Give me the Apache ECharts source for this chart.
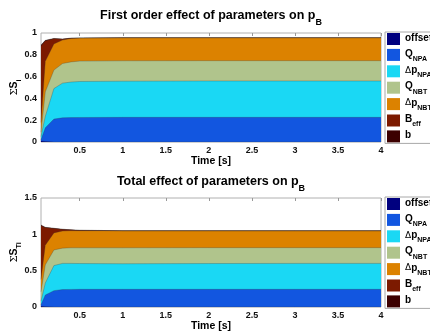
<!DOCTYPE html>
<html>
<head>
<meta charset="utf-8">
<script src="https://cdn.jsdelivr.net/npm/echarts@6/dist/echarts.min.js"></script>
<style>
  html, body { margin: 0; padding: 0; background: #fff; }
  #chart { width: 430px; height: 331px; }
</style>
</head>
<body>
<div id="chart"></div>
<script>
// Sample times [s]
const time = [0.05, 0.1, 0.2, 0.3, 0.4, 0.5, 1, 2, 3, 4];

// Parameter names (stacking order, bottom to top)
const paramNames = ['offset', 'Q_NPA', 'Δp_NPA', 'Q_NBT', 'Δp_NBT', 'B_eff', 'b'];
const paramColors = ['#00007f', '#1256e0', '#1ad8f4', '#b0c48c', '#dc8200', '#7c1a00', '#3c0000'];

// First order sensitivity indices S_i
const firstOffset = [0.01, 0.005, 0, 0, 0, 0, 0, 0, 0, 0];
const firstQNPA   = [0.01, 0.125, 0.21, 0.222, 0.224, 0.225, 0.226, 0.226, 0.226, 0.226];
const firstDpNPA  = [0.03, 0.105, 0.28, 0.318, 0.326, 0.330, 0.332, 0.334, 0.334, 0.334];
const firstQNBT   = [0.04, 0.225, 0.17, 0.18, 0.185, 0.187, 0.187, 0.186, 0.186, 0.186];
const firstDpNBT  = [0.09, 0.28, 0.24, 0.215, 0.215, 0.213, 0.212, 0.211, 0.211, 0.211];
const firstBeff   = [0.70, 0.19, 0.05, 0.01, 0.003, 0, 0, 0, 0, 0];
const firstB      = [0.01, 0.003, 0, 0, 0, 0, 0, 0, 0, 0];

// Total effect indices S_Ti
const totalOffset = [0.01, 0.005, 0, 0, 0, 0, 0, 0, 0, 0];
const totalQNPA   = [0.02, 0.16, 0.225, 0.24, 0.242, 0.243, 0.243, 0.243, 0.243, 0.243];
const totalDpNPA  = [0.05, 0.165, 0.345, 0.36, 0.358, 0.355, 0.352, 0.355, 0.357, 0.357];
const totalQNBT   = [0.13, 0.25, 0.215, 0.21, 0.215, 0.217, 0.22, 0.219, 0.217, 0.217];
const totalDpNBT  = [0.17, 0.27, 0.235, 0.235, 0.235, 0.235, 0.235, 0.233, 0.233, 0.233];
const totalBeff   = [0.74, 0.245, 0.063, 0.025, 0.012, 0.006, 0, 0, 0, 0];
const totalB      = [0.01, 0.002, 0, 0, 0, 0, 0, 0, 0, 0];

// Tick labels
const xTicks = [0.5, 1, 1.5, 2, 2.5, 3, 3.5, 4];
const firstYTicks = { min: 0, max: 1, step: 0.2 };
const totalYTicks = { min: 0, max: 1.5, step: 0.5 };

const firstSets = [firstOffset, firstQNPA, firstDpNPA, firstQNBT, firstDpNBT, firstBeff, firstB];
const totalSets = [totalOffset, totalQNPA, totalDpNPA, totalQNBT, totalDpNBT, totalBeff, totalB];

const FONT = 'Liberation Sans, Arial, sans-serif';

// "Q_NPA" -> rich text with subscript, leading Δ drawn in a symbol-like face
function richName(n) {
  let out = '';
  let s = n;
  if (s.charAt(0) === 'Δ') { out += '{d|Δ}'; s = s.slice(1); }
  const parts = s.split('_');
  out += '{m|' + parts[0] + '}';
  if (parts[1]) out += '{s|' + parts[1] + '}';
  return out;
}

const legendRich = {
  m: { fontFamily: FONT, fontSize: 10, fontWeight: 'bold', color: '#000', lineHeight: 12, padding: [1, 0, 3, 0] },
  d: { fontFamily: 'DejaVu Sans', fontSize: 9, fontWeight: 'normal', color: '#000', lineHeight: 12, padding: [1, 0, 3, 0] },
  s: { fontFamily: FONT, fontSize: 7, fontWeight: 'bold', color: '#000', lineHeight: 8, padding: [8, 0, 0, 0] }
};

const titleRich = {
  t: { fontFamily: FONT, fontSize: 12.5, fontWeight: 'bold', color: '#000', lineHeight: 14, padding: [0, 0, 5, 0] },
  s: { fontFamily: FONT, fontSize: 9, fontWeight: 'bold', color: '#000', lineHeight: 10, padding: [9, 0, 0, 0] }
};

const axisNameRich = {
  g: { fontFamily: 'DejaVu Serif', fontSize: 10, fontWeight: 'normal', color: '#000', lineHeight: 12, padding: [1, 0, 3, 0] },
  m: { fontFamily: FONT, fontSize: 10.5, fontWeight: 'bold', color: '#000', lineHeight: 12, padding: [1, 0, 3, 0] },
  s: { fontFamily: FONT, fontSize: 7, fontWeight: 'bold', color: '#000', lineHeight: 8, padding: [8, 0, 0, 0] }
};

const grids = [
  { left: 41, top: 33, width: 340, height: 109 },
  { left: 41, top: 198, width: 340, height: 109 }
];

function xAxes(gridIndex) {
  const base = {
    type: 'value', gridIndex, min: 0.05, max: 4,
    splitLine: { show: false },
    axisLine: { show: false }
  };
  return [
    Object.assign({}, base, {
      position: 'bottom',
      name: 'Time [s]', nameLocation: 'middle', nameGap: 14, nameMoveOverlap: false,
      nameTextStyle: { fontFamily: FONT, fontSize: 10.5, fontWeight: 'bold', color: '#000', lineHeight: 11 },
      axisTick: { show: false },
      axisLabel: { customValues: xTicks, margin: 4, fontFamily: FONT, fontSize: 9, fontWeight: 'bold', color: '#111' }
    }),
    Object.assign({}, base, {
      position: 'top',
      axisTick: { show: true, inside: true, length: 3, customValues: xTicks, lineStyle: { color: '#999' } },
      axisLabel: { show: false }
    })
  ];
}

function yAxis(gridIndex, ticks, nameRich) {
  return {
    type: 'value', gridIndex, min: ticks.min, max: ticks.max, interval: ticks.step,
    name: nameRich, nameLocation: 'middle', nameGap: 20, nameMoveOverlap: false,
    nameTextStyle: { rich: axisNameRich },
    splitLine: { show: false },
    axisLine: { show: false },
    axisTick: { show: false },
    axisLabel: { margin: 4, fontFamily: FONT, fontSize: 9, fontWeight: 'bold', color: '#111' }
  };
}

// Stacked areas: each layer is drawn as the running total up to that parameter,
// highest total first so the lower layers paint over it.
function buildSeries(sets, xIdx, yIdx) {
  const running = time.map(() => 0);
  const layers = sets.map((vals, i) => {
    const tops = vals.map((v, k) => (running[k] += v));
    return { i, tops };
  });
  return layers.reverse().map(({ i, tops }) => ({
    name: paramNames[i],
    type: 'line',
    xAxisIndex: xIdx,
    yAxisIndex: yIdx,
    data: time.map((t, k) => [t, +tops[k].toFixed(4)]),
    showSymbol: false,
    symbol: 'none',
    color: paramColors[i],
    lineStyle: { width: 0.6, color: '#333', opacity: 0.45 },
    areaStyle: { color: paramColors[i], opacity: 1, origin: 'start' },
    emphasis: { disabled: true },
    animation: false
  }));
}

function legend(top) {
  return {
    orient: 'vertical', left: 385, top: top,
    data: paramNames,
    icon: 'rect', itemWidth: 13, itemHeight: 12, itemGap: 1.4,
    padding: [0, 2, 0, 2],
    backgroundColor: '#fff',
    borderColor: '#a8a8a8', borderWidth: 1, borderRadius: 0,
    formatter: richName,
    textStyle: { rich: legendRich },
    selectedMode: false
  };
}

const chart = echarts.init(document.getElementById('chart'), null, { renderer: 'canvas' });
chart.setOption({
  backgroundColor: '#fff',
  animation: false,
  title: [
    { text: '{t|First order effect of parameters on p}{s|B}', left: 211, top: 11, textAlign: 'center', padding: 0,
      textStyle: { rich: titleRich } },
    { text: '{t|Total effect of parameters on p}{s|B}', left: 211, top: 177, textAlign: 'center', padding: 0,
      textStyle: { rich: titleRich } }
  ],
  legend: [legend(32), legend(197)],
  grid: grids.map(g => Object.assign({
    show: true, borderColor: '#b0b0b0', borderWidth: 1, backgroundColor: '#fff',
    containLabel: false, outerBoundsMode: 'none'
  }, g)),
  xAxis: xAxes(0).concat(xAxes(1)),
  yAxis: [
    yAxis(0, firstYTicks, '{g|Σ}{m|S}{s|i}'),
    yAxis(1, totalYTicks, '{g|Σ}{m|S}{s|Ti}')
  ],
  series: buildSeries(firstSets, 0, 0).concat(buildSeries(totalSets, 2, 1))
});
</script>
</body>
</html>
